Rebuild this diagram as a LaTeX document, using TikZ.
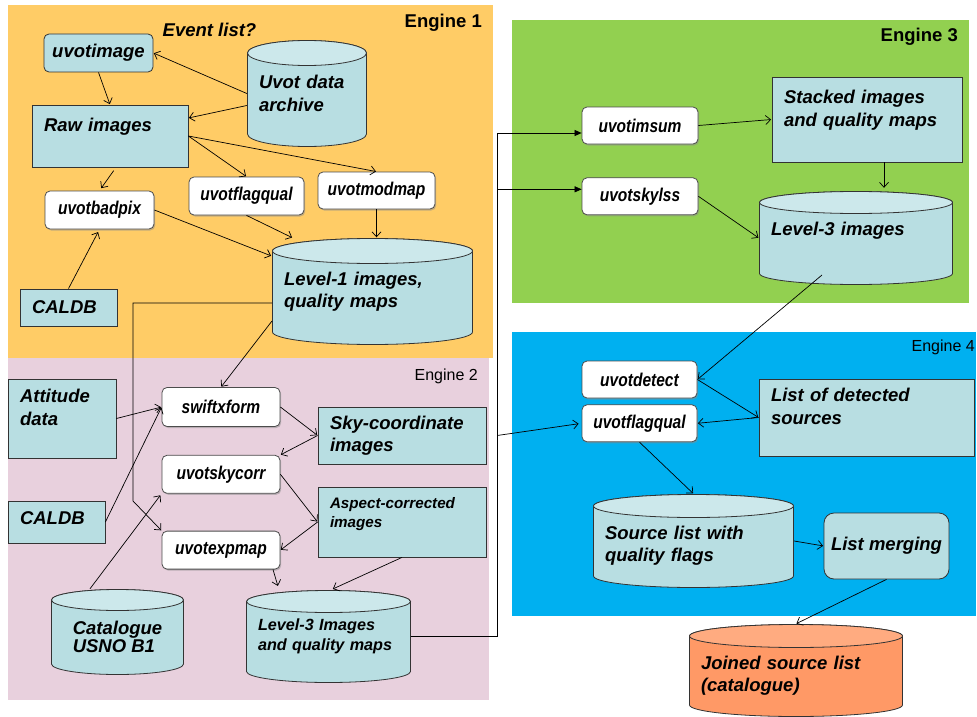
\documentclass[tikz,border=0pt]{standalone}
\usepackage{fontspec}
\setmainfont{Liberation Sans}
\newfontfamily\toolfont[FakeStretch=0.84]{Liberation Sans}
\usetikzlibrary{arrows.meta, positioning, shadows, calc}

\definecolor{engone}{HTML}{FFCC66}
\definecolor{engtwo}{HTML}{E8D0DD}
\definecolor{engthree}{HTML}{92D050}
\definecolor{engfour}{HTML}{00B0F0}
\definecolor{boxblue}{HTML}{B8DEE2}
\definecolor{boxtop}{HTML}{CCE8EB}
\definecolor{joinbody}{HTML}{FF9966}
\definecolor{jointop}{HTML}{FFAB80}

\begin{document}
\begin{tikzpicture}[
    x=1pt, y=-1pt,
    capdepth/.store in=\dbcap, capdepth=12pt,
    bodycol/.store in=\dbbody, bodycol=boxblue,
    topcol/.store in=\dbtop, topcol=boxtop,
    big/.style = {font=\fontsize{18.5}{22.5}\selectfont\bfseries\itshape},
    box/.style = {draw=black!80, fill=boxblue, line width=0.8pt, inner sep=0pt, align=left, big},
    tool/.style = {draw=black!70, fill=white, rounded corners=5pt, line width=0.8pt, inner sep=0pt,
                   minimum height=38pt, font=\fontsize{18.5}{22}\selectfont\toolfont\bfseries\itshape,
                   drop shadow={shadow xshift=1.2pt, shadow yshift=-1.5pt, fill=black!45}},
    db/.style = {rectangle, inner sep=0pt, align=left, big,
      path picture={
        \path[fill=\dbbody, draw=black!80, line width=0.8pt]
          let \p1 = (path picture bounding box.north west),
              \p2 = (path picture bounding box.south east),
              \n1 = {(\x2-\x1)/2-0.5pt} in
          (\x1+0.5pt,\y1-\dbcap-0.5pt) -- (\x1+0.5pt,\y2+\dbcap+0.5pt)
          arc[start angle=180, end angle=360, x radius=\n1, y radius=\dbcap]
          -- (\x2-0.5pt,\y1-\dbcap-0.5pt)
          arc[start angle=0, end angle=180, x radius=\n1, y radius=\dbcap] -- cycle;
        \path[fill=\dbtop, draw=black!80, line width=0.8pt]
          let \p1 = (path picture bounding box.north west),
              \p2 = (path picture bounding box.south east),
              \n1 = {(\x2-\x1)/2-0.5pt} in
          ({(\x1+\x2)/2},\y1-\dbcap-0.5pt) ellipse [x radius=\n1, y radius=\dbcap];
      }},
    arrow/.style = {-{Straight Barb[length=5pt, width=9pt]}, line width=0.7pt, shorten >=0.5pt},
    feed/.style = {-{Triangle[length=7pt, width=6pt]}, line width=0.7pt},
    engine/.style = {anchor=east, inner sep=0pt}
  ]

  % Canvas and engine panels
  \useasboundingbox (0,0) rectangle (977,717);
  \fill[white] (0,0) rectangle (977,717);
  \fill[engone] (8,5) rectangle (493,358);
  \fill[engtwo] (8,358) rectangle (489,700);
  \fill[engthree] (512,20) rectangle (969,303);
  \fill[engfour] (512,332) rectangle (976,616);

  % Engine 1
  \node[engine, font=\fontsize{18.5}{22}\selectfont\bfseries] (engone) at (482,23) {Engine 1};
  \node[big, inner sep=0pt] (evlist) at (209.5,30) {Event list?};
  \node[box, rounded corners=5pt, minimum width=109pt, minimum height=38pt, align=center] (uvotimage) at (98.5,53) {uvotimage};
  \node[db, capdepth=12.5pt, minimum width=120pt, minimum height=107pt, text width=96pt] (archive) at (307,93.5) {Uvot data\\archive};
  \node[box, minimum width=156pt, minimum height=62pt, text width=132pt] (raw) at (110,136) {Raw images\\\mbox{}};
  \node[tool, minimum width=109pt] (badpix) at (99.5,210) {uvotbadpix};
  \node[tool, minimum width=115pt] (flagqualA) at (246.5,196) {uvotflagqual};
  \node[tool, minimum width=117pt, minimum height=37pt] (modmap) at (376.5,190.5) {uvotmodmap};
  \node[db, capdepth=12.5pt, minimum width=201pt, minimum height=107pt, text width=177pt] (lvlone) at (372.5,291.5) {Level-1 images,\\quality maps};
  \node[box, minimum width=97pt, minimum height=37pt, text width=73pt] (caldbA) at (68.5,307.5) {CALDB};

  % Engine 2
  \node[engine, font=\fontsize{16}{20}\selectfont] (engtwo) at (478,376) {Engine 2};
  \node[box, minimum width=108pt, minimum height=79pt, text width=84pt] (attitude) at (62,418.5) {Attitude\\data\\\mbox{}};
  \node[box, minimum width=97pt, minimum height=42pt, text width=73pt] (caldbB) at (56.5,522) {CALDB\\[-14pt]\mbox{}};
  \node[tool, minimum width=118pt, minimum height=39pt] (swiftxform) at (221,407) {swiftxform};
  \node[tool, minimum width=118pt, below=28pt of swiftxform] (skycorr) {uvotskycorr};
  \node[tool, minimum width=118pt, below=37pt of skycorr] (expmap) {uvotexpmap};
  \node[box, minimum width=168pt, minimum height=57pt, text width=144pt] (skycoord) at (402,435.5) {Sky-coordinate\\images};
  \node[box, minimum width=168pt, minimum height=70pt, text width=144pt,
        font=\fontsize{15.2}{19}\selectfont\bfseries\itshape] (aspcorr) at (402,522) {Aspect-corrected\\images\\\mbox{}};
  \node[db, capdepth=10.5pt, minimum width=133pt, minimum height=86pt,
        font=\fontsize{18.5}{18.5}\selectfont\bfseries\itshape] (usno) at (117.5,632) {\rule{0pt}{23.5pt}Catalogue\\USNO B1};
  \node[db, capdepth=11pt, minimum width=165pt, minimum height=93pt, text width=141pt,
        font=\fontsize{16.2}{20}\selectfont\bfseries\itshape] (lvlthreeA) at (328.5,636.5) {Level-3 Images\\and quality maps};

  % Engine 3
  \node[engine, font=\fontsize{18.5}{22}\selectfont\bfseries] (engthree) at (958,37) {Engine 3};
  \node[tool, minimum width=116pt, minimum height=37pt] (imsum) at (640,125.5) {uvotimsum};
  \node[tool, minimum width=116pt, minimum height=37pt, below=33pt of imsum] (skylss) {uvotskylss};
  \node[box, minimum width=190pt, minimum height=85pt, text width=166pt] (stacked) at (867,119.5) {Stacked images\\and quality maps\\\mbox{}};
  \node[db, capdepth=11pt, minimum width=194pt, minimum height=94pt, text width=170pt] (lvlthreeB) at (856,238) {Level-3 images\\[-4pt]\mbox{}};

  % Engine 4
  \node[engine, font=\fontsize{16}{20}\selectfont] (engfour) at (975,347) {Engine 4};
  \node[tool, minimum width=115pt, minimum height=37pt] (detect) at (639.5,379.5) {uvotdetect};
  \node[tool, minimum width=115pt, minimum height=37pt, below=6pt of detect] (flagqualB) {uvotflagqual};
  \node[box, minimum width=215pt, minimum height=77pt, text width=191pt] (detected) at (866.5,417.5) {List of detected\\sources\\\mbox{}};
  \node[db, capdepth=11.5pt, minimum width=201pt, minimum height=94pt, text width=177pt] (srclist) at (693.5,541) {\rule{0pt}{22.5pt}Source list with\\quality flags};
  \node[box, rounded corners=10pt, minimum width=125pt, minimum height=66pt, align=center] (merging) at (886.5,546) {List merging};
  \node[db, capdepth=11.5pt, bodycol=joinbody, topcol=jointop, minimum width=214pt,
        minimum height=93pt, text width=190pt] (joined) at (796,670.5) {\rule{0pt}{23.5pt}Joined source list\\(catalogue)};

  % Arrows Engine 1
  \draw[arrow] (archive.west) -- (uvotimage.east);
  \draw[arrow] ([yshift=-12pt]archive.west) -- ([yshift=18pt]raw.east);
  \draw[arrow] (uvotimage.south) -- (raw.north);
  \draw[arrow] (raw.east) -- (flagqualA.north);
  \draw[arrow] (raw.east) -- (modmap.north);
  \draw[arrow, shorten <=4pt, shorten >=3pt] ([xshift=6pt]raw.south) -- (badpix.north);
  \draw[arrow] (badpix.east) -- ($(lvlone.center)+(-101,-35.5)$);
  \draw[arrow] (flagqualA.south) -- ([xshift=-80pt]lvlone.north);
  \draw[arrow] (modmap.south) -- (modmap.south |- lvlone.north);
  \draw[arrow, shorten >=3pt] (caldbA.north) -- (badpix.south);
  \draw[arrow] ($(lvlone.center)+(-100.5,11.5)$) -| (133,501) -- (expmap.north west);
  \draw[arrow] ($(lvlone.center)+(-100.5,29.5)$) -- (swiftxform.north);

  % Arrows Engine 2
  \draw[arrow] (attitude.east) -- (swiftxform.west);
  \draw[arrow] (caldbB.east) -- (swiftxform.west);
  \draw[arrow, shorten >=2pt] ([xshift=-27.5pt]usno.north) -- (skycorr.south west);
  \draw[arrow] (swiftxform.east) -- (skycoord.west);
  \draw[arrow] (skycoord.west) -- (skycorr.north east);
  \draw[arrow] (skycorr.east) -- (aspcorr.west);
  \draw[arrow] (aspcorr.west) -- (expmap.east);
  \draw[arrow, shorten >=4pt] ([xshift=52pt]expmap.south) -- ([xshift=-49.5pt]lvlthreeA.north);
  \draw[arrow, shorten >=2pt] (aspcorr.south) -- ([xshift=2.5pt]lvlthreeA.north);

  % Hand-over to Engines 3 and 4
  \coordinate (spine) at ([xshift=86pt]lvlthreeA.east);
  \coordinate (skyin) at ([yshift=7pt]skylss.west);
  \draw[feed] (lvlthreeA.east) -- (spine) |- ([yshift=-7.5pt]imsum.west);
  \draw[feed] (spine |- skyin) -- (skyin);
  \draw[arrow, shorten >=3pt] (spine |- skycoord.east) -- (flagqualB.west);

  % Arrows Engine 3
  \coordinate (stackout) at ([xshift=17pt]stacked.south);
  \draw[arrow] (imsum.east) -- (stacked.west);
  \draw[arrow, shorten >=3pt] (stackout) -- (stackout |- lvlthreeB.north);
  \draw[arrow] (skylss.east) -- (lvlthreeB.west);
  \draw[arrow] ($(lvlthreeB.center)+(-34,37)$) -- (detect.east);

  % Arrows Engine 4
  \draw[arrow] (detect.east) -- (detected.west);
  \draw[arrow] (detected.west) -- (flagqualB.east);
  \draw[arrow] (flagqualB.south) -- (srclist.north);
  \draw[arrow] (srclist.east) -- (merging.west);
  \draw[arrow] (merging.south) -- (joined.north);

\end{tikzpicture}
\end{document}
